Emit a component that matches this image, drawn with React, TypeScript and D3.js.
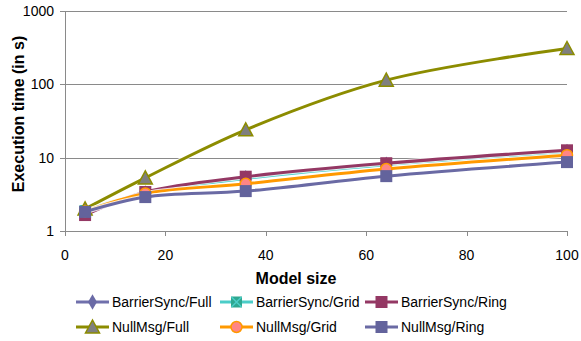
import React, { useEffect, useRef } from "react";
import * as d3 from "d3";

// model sizes on the x axis
const modelSizes = [4, 16, 36, 64, 100];

// execution time (s) per series
const barrierFull = [1.95, 3.3, 5.3, 8.1, 12.1];
const barrierGrid = [1.9, 3.3, 5.2, 8.0, 11.9];
const barrierRing = [1.65, 3.4, 5.5, 8.4, 12.6];
const nullFull = [2.0, 5.3, 24, 114, 308];
const nullGrid = [1.85, 3.25, 4.4, 7.0, 10.8];
const nullRing = [1.82, 2.9, 3.5, 5.6, 8.7];

const xTicks = [0, 20, 40, 60, 80, 100];
const yTicks = [1, 10, 100, 1000];

const seriesNames = [
  "BarrierSync/Full",
  "BarrierSync/Grid",
  "BarrierSync/Ring",
  "NullMsg/Full",
  "NullMsg/Grid",
  "NullMsg/Ring",
];

type Series = {
  name: string;
  values: number[];
  line: string;
  fill: string;
  stroke: string;
  marker: "diamond" | "xsquare" | "square" | "triangle" | "circle";
};

const series: Series[] = [
  { name: seriesNames[0], values: barrierFull, line: "#7070ac", fill: "#6a6aa6", stroke: "#6a6aa6", marker: "diamond" },
  { name: seriesNames[1], values: barrierGrid, line: "#4bcdc8", fill: "#2ea890", stroke: "#4bcdc8", marker: "xsquare" },
  { name: seriesNames[2], values: barrierRing, line: "#943864", fill: "#943864", stroke: "#943864", marker: "square" },
  { name: seriesNames[3], values: nullFull, line: "#8c8c00", fill: "#7f7f7f", stroke: "#8c8c00", marker: "triangle" },
  { name: seriesNames[4], values: nullGrid, line: "#ff9900", fill: "#ff8585", stroke: "#ff9900", marker: "circle" },
  { name: seriesNames[5], values: nullRing, line: "#6a6aa4", fill: "#63639c", stroke: "#63639c", marker: "square" },
];

const FONT = "'Liberation Sans Narrow', 'Liberation Sans', sans-serif";

function drawMarker(g: any, kind: string, x: number, y: number, s: Series) {
  if (kind === "square") {
    g.append("rect")
      .attr("x", x - 6).attr("y", y - 6).attr("width", 12).attr("height", 12)
      .attr("fill", s.fill);
  } else if (kind === "diamond") {
    g.append("path")
      .attr("d", d3.symbol(d3.symbolDiamond, 70)())
      .attr("transform", `translate(${x},${y})`)
      .attr("fill", s.fill);
  } else if (kind === "triangle") {
    g.append("path")
      .attr("d", `M${x},${y - 7}L${x + 7},${y + 6}L${x - 7},${y + 6}Z`)
      .attr("fill", s.fill).attr("stroke", s.stroke).attr("stroke-width", 1.5);
  } else if (kind === "circle") {
    g.append("circle")
      .attr("cx", x).attr("cy", y).attr("r", 5.5)
      .attr("fill", s.fill).attr("stroke", s.stroke).attr("stroke-width", 1.5);
  } else if (kind === "xsquare") {
    g.append("rect")
      .attr("x", x - 5.5).attr("y", y - 5.5).attr("width", 11).attr("height", 11)
      .attr("fill", s.fill);
    g.append("path")
      .attr("d", `M${x - 5},${y - 5}L${x + 5},${y + 5}M${x + 5},${y - 5}L${x - 5},${y + 5}`)
      .attr("stroke", s.stroke).attr("stroke-width", 1.5);
  }
}

const App = () => {
  const svgRef = useRef<SVGSVGElement>(null);

  useEffect(() => {
    const svg = d3.select(svgRef.current);
    svg.selectAll("*").remove();

    const margin = { left: 65, right: 14, top: 11, bottom: 110 };
    const width = 581;
    const height = 341;

    const x = d3.scaleLinear().domain([0, 100]).range([margin.left, 567]);
    const y = d3.scaleLog().domain([1, 1000]).range([231, margin.top]);

    // gridlines
    svg.append("g")
      .selectAll("line")
      .data(yTicks)
      .join("line")
      .attr("x1", margin.left - 5)
      .attr("x2", 567)
      .attr("y1", (d) => Math.round(y(d)) + 0.5)
      .attr("y2", (d) => Math.round(y(d)) + 0.5)
      .attr("stroke", "#8a8a8a")
      .attr("stroke-width", 1);

    // y axis line
    svg.append("line")
      .attr("x1", margin.left + 0.5).attr("x2", margin.left + 0.5)
      .attr("y1", y(1000)).attr("y2", y(1))
      .attr("stroke", "#8a8a8a");

    // x ticks
    svg.append("g")
      .selectAll("line")
      .data(xTicks)
      .join("line")
      .attr("x1", (d) => Math.round(x(d)) + 0.5)
      .attr("x2", (d) => Math.round(x(d)) + 0.5)
      .attr("y1", y(1))
      .attr("y2", y(1) + 5)
      .attr("stroke", "#8a8a8a");

    // tick labels
    svg.append("g")
      .selectAll("text")
      .data(yTicks)
      .join("text")
      .attr("x", 54)
      .attr("y", (d) => y(d) + 5)
      .attr("text-anchor", "end")
      .style("font-family", FONT)
      .style("font-size", "14px")
      .attr("fill", "#000")
      .text((d) => d);

    svg.append("g")
      .selectAll("text")
      .data(xTicks)
      .join("text")
      .attr("x", (d) => x(d))
      .attr("y", 260)
      .attr("text-anchor", "middle")
      .style("font-family", FONT)
      .style("font-size", "14px")
      .text((d) => d);

    // axis titles
    svg.append("text")
      .attr("x", 296).attr("y", 284)
      .attr("text-anchor", "middle")
      .style("font-family", FONT)
      .style("font-size", "16px")
      .style("font-weight", "bold")
      .text("Model size");

    svg.append("text")
      .attr("transform", "translate(24,114) rotate(-90)")
      .attr("text-anchor", "middle")
      .style("font-family", FONT)
      .style("font-size", "16px")
      .style("font-weight", "bold")
      .text("Execution time (in s)");

    // lines
    const line = d3.line<number>()
      .x((_, i) => x(modelSizes[i]))
      .y((d) => y(d))
      .curve(d3.curveCatmullRom.alpha(0.5));

    const plot = svg.append("g");
    series.forEach((s) => {
      plot.append("path")
        .attr("d", line(s.values))
        .attr("fill", "none")
        .attr("stroke", "#fff")
        .attr("stroke-opacity", 0.8)
        .attr("stroke-width", 5);
      plot.append("path")
        .attr("d", line(s.values))
        .attr("fill", "none")
        .attr("stroke", s.line)
        .attr("stroke-width", 3);
      s.values.forEach((v, i) => drawMarker(plot, s.marker, x(modelSizes[i]), y(v), s));
    });

    // legend
    const cols = [76, 220, 365];
    const rows = [302, 327];
    series.forEach((s, i) => {
      const lx = cols[i % 3];
      const ly = rows[Math.floor(i / 3)];
      const g = svg.append("g");
      g.append("line")
        .attr("x1", lx).attr("x2", lx + 33)
        .attr("y1", ly).attr("y2", ly)
        .attr("stroke", s.line).attr("stroke-width", 3);
      drawMarker(g, s.marker, lx + 16.5, ly, s);
      g.append("text")
        .attr("x", lx + 36)
        .attr("y", ly + 5)
        .style("font-family", FONT)
        .style("font-size", "14px")
        .text(s.name);
    });
  }, []);

  return (
    <div style={{ position: "absolute", left: 0, top: 0, width: 581, height: 341 }}>
      <svg ref={svgRef} width={581} height={341} style={{ display: "block", background: "#fff" }}></svg>
    </div>
  );
};

export default App;
